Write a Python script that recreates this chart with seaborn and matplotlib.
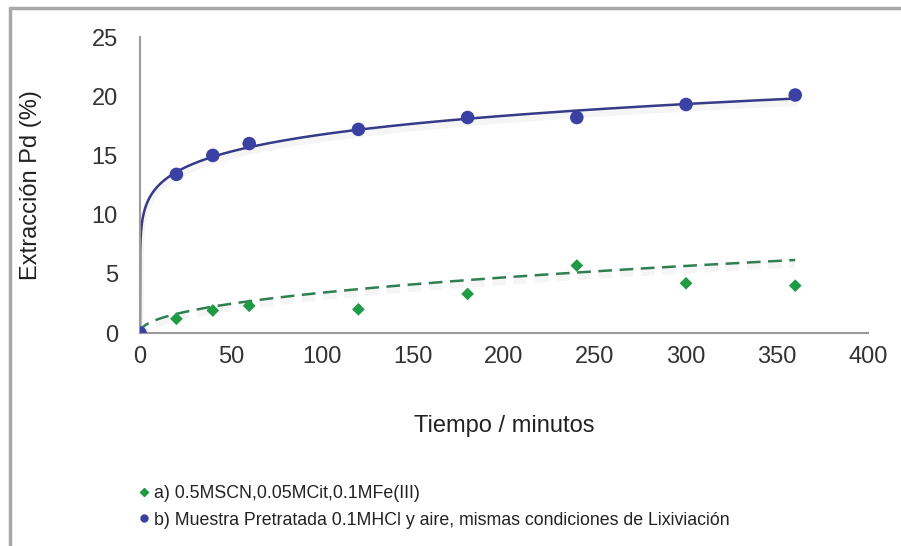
import numpy as np
import pandas as pd
import matplotlib
matplotlib.use("Agg")
import matplotlib.pyplot as plt
import matplotlib.patheffects as pe
from matplotlib.lines import Line2D
import seaborn as sns

# ---- data ----
tiempo = [0, 20, 40, 60, 120, 180, 240, 300, 360]
serie_a = [0.0, 1.2, 1.9, 2.3, 2.0, 3.3, 5.7, 4.2, 4.0]          # green diamonds
serie_b = [0.0, 13.4, 15.0, 16.0, 17.2, 18.2, 18.2, 19.3, 20.1]  # blue circles
# trend line (a) as drawn in the reference
trend_a_t = [60, 120, 180, 240, 300, 360]
trend_a_y = [2.6, 3.8, 4.6, 5.3, 5.6, 5.9]

label_a = "a) 0.5MSCN,0.05MCit,0.1MFe(III)"
label_b = "b) Muestra Pretratada 0.1MHCl y aire, mismas condiciones de Lixiviación"
xlabel = "Tiempo / minutos"
ylabel = "Extracción Pd (%)"
xticks = [0, 50, 100, 150, 200, 250, 300, 350, 400]
yticks = [0, 5, 10, 15, 20, 25]

col_a = "#1f9a45"
col_a_line = "#2f7f52"
col_b = "#3b40a3"
col_b_line = "#363a88"

sns.set_theme(style="white")
plt.rcParams["font.family"] = ["Liberation Sans", "DejaVu Sans"]

df = pd.DataFrame({"t": tiempo, "a": serie_a, "b": serie_b})

# power-law trend lines (like spreadsheet trendlines)
def power_fit(x, y):
    x = np.asarray(x, float); y = np.asarray(y, float)
    m = (x > 0) & (y > 0)
    b, ln_a = np.polyfit(np.log(x[m]), np.log(y[m]), 1)
    return np.exp(ln_a), b

tt = np.concatenate([[0.0], np.geomspace(0.05, 360, 400)])
ab, bb = power_fit(tiempo, serie_b)
aa, ba = power_fit(trend_a_t, trend_a_y)
fit_b = np.where(tt > 0, ab * np.power(np.maximum(tt, 1e-9), bb), 0.0)
fit_a = np.where(tt > 0, aa * np.power(np.maximum(tt, 1e-9), ba), 0.0)
dfit = pd.DataFrame({"t": tt, "fa": fit_a, "fb": fit_b})

fig = plt.figure(figsize=(9.01, 5.46), dpi=100)
ax = fig.add_axes([0.1554, 0.3901, 0.8080, 0.5421])

shadow = [pe.SimpleLineShadow(offset=(0, -3), shadow_color="#d0d0d0", alpha=0.2, linewidth=5), pe.Normal()]

sns.lineplot(data=dfit, x="t", y="fb", ax=ax, color=col_b_line, linewidth=1.8,
             legend=False, zorder=2)
ax.lines[-1].set_path_effects(shadow)
sns.lineplot(data=dfit, x="t", y="fa", ax=ax, color=col_a_line, linewidth=1.8,
             legend=False, zorder=2)
ax.lines[-1].set_dashes([5.5, 3])
ax.lines[-1].set_path_effects(shadow)

sns.scatterplot(data=df, x="t", y="a", ax=ax, color=col_a, marker="D", s=42,
                edgecolor="none", zorder=3)
sns.scatterplot(data=df, x="t", y="b", ax=ax, color=col_b, marker="o", s=95,
                edgecolor="none", zorder=4)

ax.set_xlim(0, 400)
ax.set_ylim(0, 25)
ax.set_xticks(xticks)
ax.set_yticks(yticks)
ax.tick_params(axis="both", labelsize=17, colors="#333333", length=4, width=1,
               direction="out")
ax.tick_params(axis="y", pad=12)
ax.tick_params(axis="x", pad=5)
for s in ["top", "right"]:
    ax.spines[s].set_visible(False)
for s in ["left", "bottom"]:
    ax.spines[s].set_color("#9a9a9a")
    ax.spines[s].set_linewidth(1.5)
for t in ax.get_xticklines() + ax.get_yticklines():
    t.set_color("#9a9a9a")
ax.set_xlabel(xlabel, fontsize=17, color="#222222", labelpad=34)
ax.set_ylabel(ylabel, fontsize=17, color="#222222", labelpad=36)
ax.patch.set_alpha(0)

# frame lines of the chart area
fig.add_artist(Line2D([0.011, 1.0], [0.985, 0.985], transform=fig.transFigure, color="#a8a8a8", lw=2.5))
fig.add_artist(Line2D([0.011, 0.011], [0.0, 0.985], transform=fig.transFigure, color="#a8a8a8", lw=2.5))

handles = [Line2D([], [], marker="D", color=col_a, linestyle="none", markersize=4),
           Line2D([], [], marker="o", color=col_b, linestyle="none", markersize=5)]
leg = fig.legend(handles, [label_a, label_b], loc="upper left",
                 bbox_to_anchor=(0.142, 0.125), bbox_transform=fig.transFigure,
                 frameon=False, fontsize=12.8, handletextpad=0.05, handlelength=1.0,
                 labelspacing=0.55, borderaxespad=0)
for txt in leg.get_texts():
    txt.set_color("#222222")

fig.savefig("out.png", dpi=100)
